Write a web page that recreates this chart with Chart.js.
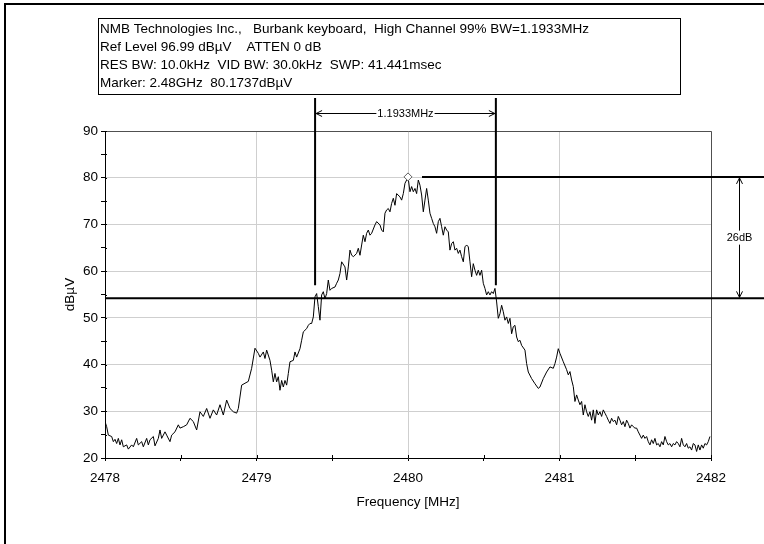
<!DOCTYPE html>
<html>
<head>
<meta charset="utf-8">
<script src="https://cdn.jsdelivr.net/npm/chart.js@4.4.0/dist/chart.umd.min.js"></script>
<style>
  html, body { margin: 0; padding: 0; background: #fff; }
  canvas { display: block; }
</style>
</head>
<body>
<canvas id="chart" width="764" height="544"></canvas>
<script>
// spectrum trace, 2478-2482 MHz
const freqMHz = [
  2478.000, 2478.011, 2478.022, 2478.044, 2478.055, 2478.066, 2478.077, 2478.088, 2478.099, 2478.110,
  2478.121, 2478.143, 2478.154, 2478.176, 2478.187, 2478.209, 2478.220, 2478.242, 2478.253, 2478.275,
  2478.286, 2478.297, 2478.319, 2478.330, 2478.352, 2478.363, 2478.374, 2478.396, 2478.407, 2478.429,
  2478.440, 2478.462, 2478.484, 2478.495, 2478.517, 2478.539, 2478.561, 2478.583, 2478.605, 2478.627,
  2478.649, 2478.671, 2478.693, 2478.715, 2478.737, 2478.759, 2478.781, 2478.803, 2478.825, 2478.847,
  2478.869, 2478.880, 2478.902, 2478.924, 2478.946, 2478.968, 2478.990, 2479.012,
  2479.023, 2479.045, 2479.056, 2479.067, 2479.089, 2479.100, 2479.111, 2479.122, 2479.133, 2479.144,
  2479.155, 2479.166, 2479.177, 2479.188, 2479.199, 2479.210, 2479.221, 2479.243, 2479.254, 2479.265,
  2479.287, 2479.298, 2479.309, 2479.331, 2479.342, 2479.353, 2479.364, 2479.375, 2479.386, 2479.397,
  2479.408, 2479.419, 2479.430, 2479.441, 2479.452, 2479.463, 2479.474, 2479.485, 2479.496, 2479.518,
  2479.529, 2479.540, 2479.551, 2479.562, 2479.584, 2479.595, 2479.606, 2479.617, 2479.628, 2479.640,
  2479.661, 2479.672, 2479.683, 2479.694, 2479.705, 2479.716, 2479.727, 2479.738, 2479.749, 2479.760,
  2479.782, 2479.793, 2479.815, 2479.826, 2479.837, 2479.848, 2479.859, 2479.870, 2479.881, 2479.892,
  2479.903, 2479.914, 2479.925, 2479.947, 2479.958, 2479.969, 2479.980, 2479.991, 2480.000,
  2480.013, 2480.024, 2480.035, 2480.046, 2480.057, 2480.068, 2480.079, 2480.090, 2480.101, 2480.112,
  2480.123, 2480.134, 2480.145, 2480.156, 2480.167, 2480.178, 2480.189, 2480.200, 2480.211, 2480.222,
  2480.233, 2480.244, 2480.255, 2480.266, 2480.277, 2480.288, 2480.299, 2480.310, 2480.321, 2480.332,
  2480.343, 2480.354, 2480.365, 2480.376, 2480.387, 2480.398, 2480.409, 2480.420, 2480.431, 2480.442,
  2480.453, 2480.464, 2480.475, 2480.486, 2480.497, 2480.508, 2480.519, 2480.530, 2480.541, 2480.552,
  2480.563, 2480.574, 2480.585, 2480.596, 2480.607, 2480.618, 2480.629, 2480.640, 2480.651, 2480.662,
  2480.673, 2480.684, 2480.695, 2480.706, 2480.717, 2480.728, 2480.739, 2480.750, 2480.772, 2480.783,
  2480.794, 2480.816, 2480.838, 2480.860, 2480.871, 2480.893, 2480.915, 2480.937, 2480.959, 2480.970,
  2480.981, 2480.992,
  2481.003, 2481.025, 2481.047, 2481.058, 2481.069, 2481.080, 2481.091, 2481.102, 2481.113, 2481.124,
  2481.135, 2481.146, 2481.157, 2481.168, 2481.179, 2481.190, 2481.201, 2481.212, 2481.223, 2481.234,
  2481.245, 2481.256, 2481.267, 2481.278, 2481.289, 2481.300, 2481.311, 2481.322, 2481.333, 2481.344,
  2481.355, 2481.366, 2481.377, 2481.388, 2481.399, 2481.410, 2481.421, 2481.432, 2481.443, 2481.454,
  2481.465, 2481.476, 2481.487, 2481.498, 2481.509, 2481.520, 2481.531, 2481.542, 2481.553, 2481.564,
  2481.575, 2481.586, 2481.597, 2481.608, 2481.619, 2481.630, 2481.641, 2481.652, 2481.663, 2481.674,
  2481.685, 2481.696, 2481.707, 2481.718, 2481.729, 2481.740, 2481.751, 2481.762, 2481.773, 2481.784,
  2481.795, 2481.806, 2481.817, 2481.828, 2481.839, 2481.850, 2481.861, 2481.872, 2481.883, 2481.894,
  2481.905, 2481.916, 2481.927, 2481.938, 2481.949, 2481.960, 2481.971, 2481.982, 2481.993
];
const levelDbuV = [
  27.8, 26.7, 24.9, 24.6, 23.5, 24.0, 23.1, 24.2, 22.8, 23.9,
  22.4, 22.8, 21.9, 22.8, 22.4, 24.2, 22.8, 23.5, 22.4, 24.2,
  22.8, 23.9, 24.6, 22.6, 24.2, 26.0, 24.2, 25.6, 24.9, 23.5,
  24.9, 25.6, 27.1, 26.4, 26.7, 27.1, 28.5, 27.8, 26.0, 29.9,
  28.9, 30.6, 28.5, 30.3, 29.2, 31.4, 29.2, 32.4, 30.6, 29.9,
  29.6, 30.6, 35.6, 36.0, 36.4, 39.2, 43.5, 42.4,
  41.6, 42.7, 41.3, 43.1, 40.9, 38.8, 36.3, 38.1, 36.3, 37.4,
  34.5, 36.6, 35.2, 36.6, 35.6, 38.1, 40.6, 40.9, 42.7, 41.6,
  43.4, 45.2, 47.0, 47.7, 48.4, 48.8, 48.8, 50.2, 54.5, 55.2,
  52.4, 49.5, 54.9, 55.6, 54.1, 55.2, 58.1, 55.9, 56.3, 56.6,
  57.4, 58.1, 59.5, 62.0, 60.9, 58.1, 60.9, 64.5, 63.4, 63.1,
  63.8, 64.9, 63.4, 65.6, 67.7, 66.3, 68.1, 68.8, 67.7, 68.1,
  69.9, 70.6, 69.9, 68.8, 68.4, 72.4, 73.1, 73.4, 72.7, 74.5,
  75.6, 74.1, 76.6, 75.9, 75.2, 76.6, 78.8, 79.5, 80.17,
  77.0, 78.1, 77.0, 77.7, 76.6, 79.5, 78.4, 76.3, 72.7, 75.2,
  77.7, 75.2, 72.4, 71.3, 70.2, 69.5, 68.1, 70.6, 71.3, 69.5,
  67.7, 69.5, 68.8, 68.4, 64.5, 65.9, 66.3, 64.5, 64.9, 63.8,
  64.5, 63.1, 62.0, 65.2, 65.6, 65.2, 62.0, 58.8, 61.6, 60.2,
  59.1, 60.2, 59.1, 60.2, 57.4, 56.3, 54.9, 55.6, 54.9, 55.6,
  55.2, 56.3, 53.4, 49.9, 50.9, 52.7, 51.3, 49.5, 50.2, 48.8,
  49.9, 46.6, 48.1, 48.4, 45.9, 44.9, 45.2, 44.1, 43.1, 40.2,
  38.4, 37.0, 35.9, 34.9, 35.2, 37.0, 38.4, 39.5, 39.2, 40.2,
  41.6, 43.4,
  42.4, 40.6, 38.9, 37.8, 38.5, 36.7, 35.3, 32.1, 33.5, 32.4,
  31.4, 32.1, 29.2, 31.4, 29.9, 28.9, 29.9, 28.1, 30.3, 27.4,
  30.3, 29.2, 29.9, 28.9, 30.3, 29.6, 28.9, 28.1, 27.4, 28.5,
  27.8, 28.1, 27.1, 28.9, 28.1, 27.1, 27.8, 26.7, 28.1, 27.4,
  26.4, 27.1, 26.7, 26.4, 26.4, 25.6, 24.9, 24.2, 24.9, 24.2,
  24.6, 23.5, 22.8, 23.9, 23.1, 24.2, 22.8, 23.1, 22.4, 23.5,
  22.8, 24.6, 23.5, 22.8, 23.1, 22.4, 23.1, 22.8, 23.5, 23.1,
  22.4, 24.2, 22.8, 22.4, 23.1, 22.1, 22.4, 21.7, 23.1, 22.8,
  21.4, 22.8, 21.7, 22.8, 22.1, 23.1, 22.8, 23.5, 24.6
];

// peak marker and 99% occupied bandwidth
const markerFreq = 2480.0;
const markerLevel = 80.1737;
const obwLow = 2479.3867;
const obwWidth = 1.1933;
const dropDb = 26;

const headerLines = [
  'NMB Technologies Inc.,   Burbank keyboard,  High Channel 99% BW=1.1933MHz',
  'Ref Level 96.99 dB\u00b5V    ATTEN 0 dB',
  'RES BW: 10.0kHz  VID BW: 30.0kHz  SWP: 41.441msec',
  'Marker: 2.48GHz  80.1737dB\u00b5V'
];

const family = '"Liberation Sans", Arial, sans-serif';
const tickFont = { family: family, size: 13.5 };

const trace = freqMHz.map((f, i) => ({ x: f, y: levelDbuV[i] }));

function arrowHead(c, x, y, dx, dy) {
  // open "V" arrow head pointing along (dx, dy)
  const px = -dy, py = dx;
  c.beginPath();
  c.moveTo(x - dx * 6 + px * 3, y - dy * 6 + py * 3);
  c.lineTo(x, y);
  c.lineTo(x - dx * 6 - px * 3, y - dy * 6 - py * 3);
  c.stroke();
}

function boxedLabel(c, text, x, y) {
  const w = c.measureText(text).width;
  c.fillStyle = '#fff';
  c.fillRect(x - w / 2 - 1, y - 7, w + 2, 14);
  c.fillStyle = '#000';
  c.fillText(text, x, y);
}

const markup = {
  id: 'markup',
  beforeDraw(chart) {
    const c = chart.ctx;
    c.save();
    c.fillStyle = '#fff';
    c.fillRect(0, 0, chart.width, chart.height);
    c.restore();
  },
  afterDraw(chart) {
    const c = chart.ctx;
    const a = chart.chartArea;
    const xs = chart.scales.x, ys = chart.scales.y;
    const W = chart.width;
    c.save();

    // window frame
    c.strokeStyle = '#000';
    c.lineWidth = 2;
    c.strokeRect(5, 4, W + 10, chart.height + 10);

    // header box
    c.lineWidth = 1;
    c.strokeRect(98.5, 18.5, 582, 76);
    c.fillStyle = '#000';
    c.font = '13.5px ' + family;
    c.textAlign = 'left';
    c.textBaseline = 'middle';
    headerLines.forEach((t, i) => c.fillText(t, 100, 29.5 + i * 18));

    // top and right edges of the plot
    c.strokeStyle = '#505050';
    c.beginPath();
    c.moveTo(a.left, a.top + 0.5);
    c.lineTo(a.right + 0.5, a.top + 0.5);
    c.lineTo(a.right + 0.5, a.bottom);
    c.stroke();

    // inner halves of the tick marks
    c.strokeStyle = '#000';
    c.beginPath();
    xs.ticks.forEach(t => {
      const px = Math.round(xs.getPixelForValue(t.value)) + 0.5;
      c.moveTo(px, a.bottom);
      c.lineTo(px, a.bottom - 3);
    });
    ys.ticks.forEach(t => {
      const py = Math.round(ys.getPixelForValue(t.value)) + 0.5;
      c.moveTo(a.left, py);
      c.lineTo(a.left + 2, py);
    });
    c.stroke();

    // bandwidth edges and the -26 dB reference lines
    const xl = xs.getPixelForValue(obwLow);
    const xr = xs.getPixelForValue(obwLow + obwWidth);
    const yPeak = ys.getPixelForValue(markerLevel);
    const yDrop = ys.getPixelForValue(markerLevel - dropDb);
    c.lineWidth = 2;
    c.beginPath();
    c.moveTo(xl, a.top - 33); c.lineTo(xl, yDrop - 13);
    c.moveTo(xr, a.top - 33); c.lineTo(xr, yDrop - 13);
    c.moveTo(xs.getPixelForValue(markerFreq) + 14, yPeak); c.lineTo(W, yPeak);
    c.moveTo(a.left, yDrop); c.lineTo(W, yDrop);
    c.stroke();

    // bandwidth dimension
    c.lineWidth = 1;
    c.font = '11px ' + family;
    c.textAlign = 'center';
    const ya = Math.round(a.top - 18) + 0.5;
    c.beginPath();
    c.moveTo(xl + 1, ya); c.lineTo(xr - 1, ya);
    c.stroke();
    arrowHead(c, xl + 1, ya, -1, 0);
    arrowHead(c, xr - 1, ya, 1, 0);
    boxedLabel(c, obwWidth.toFixed(4) + 'MHz', (xl + xr) / 2, ya);

    // level drop dimension
    const xd = Math.round(a.right + 28) + 0.5;
    c.beginPath();
    c.moveTo(xd, yPeak + 1); c.lineTo(xd, yDrop - 1);
    c.stroke();
    arrowHead(c, xd, yPeak + 1, 0, -1);
    arrowHead(c, xd, yDrop - 1, 0, 1);
    boxedLabel(c, dropDb + 'dB', xd, (yPeak + yDrop) / 2);

    c.restore();
  }
};

new Chart(document.getElementById('chart'), {
  type: 'line',
  data: {
    datasets: [
      {
        label: 'Marker',
        data: [{ x: markerFreq, y: markerLevel }],
        showLine: false,
        pointStyle: 'rectRot',
        pointRadius: 4,
        pointBorderColor: '#606060',
        pointBackgroundColor: '#fff',
        pointBorderWidth: 1,
        order: 0
      },
      {
        label: 'Trace',
        data: trace,
        borderColor: '#000',
        borderWidth: 1,
        pointRadius: 0,
        tension: 0,
        fill: false,
        order: 1
      }
    ]
  },
  options: {
    responsive: false,
    animation: false,
    events: [],
    layout: { padding: { left: 60, top: 131, right: 53, bottom: 26 } },
    plugins: { legend: { display: false }, tooltip: { enabled: false } },
    scales: {
      x: {
        type: 'linear',
        min: 2478,
        max: 2482,
        afterFit(s) { s.height = 60; },
        ticks: {
          stepSize: 0.5,
          autoSkip: false,
          maxRotation: 0,
          padding: 9,
          color: '#000',
          font: tickFont,
          callback: v => Number.isInteger(v) ? String(v) : ''
        },
        grid: {
          color: ctx => ctx.tick && Number.isInteger(ctx.tick.value) ? '#cfcfcf' : 'rgba(0,0,0,0)',
          tickColor: '#000',
          tickLength: 3
        },
        border: { color: '#000', width: 1 },
        title: {
          display: true,
          text: 'Frequency [MHz]',
          color: '#000',
          font: tickFont,
          padding: { top: 0, bottom: 8 }
        }
      },
      y: {
        type: 'linear',
        min: 20,
        max: 90,
        afterFit(s) { s.width = 45; },
        ticks: {
          stepSize: 5,
          padding: 3,
          color: '#000',
          font: tickFont,
          callback: v => v % 10 === 0 ? String(v) : ''
        },
        grid: {
          color: ctx => ctx.tick && ctx.tick.value % 10 === 0 ? '#cfcfcf' : 'rgba(0,0,0,0)',
          tickColor: '#000',
          tickLength: 4
        },
        border: { color: '#000', width: 1 },
        title: {
          display: true,
          text: 'dB\u00b5V',
          color: '#000',
          font: tickFont,
          padding: { top: 2, bottom: 0 }
        }
      }
    }
  },
  plugins: [markup]
});
</script>
</body>
</html>
